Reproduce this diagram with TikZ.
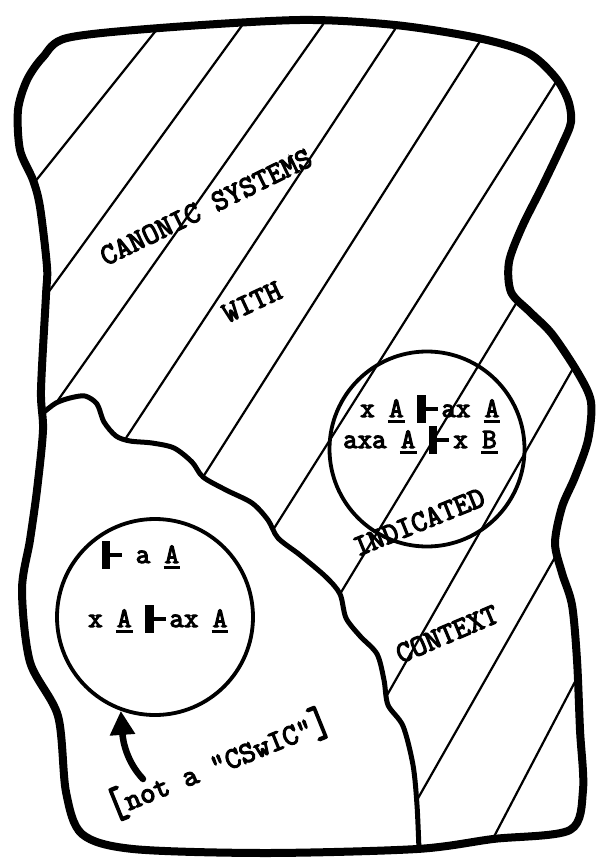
\documentclass[tikz,border=0pt]{standalone}
\usepackage{graphicx}
\usepackage{fontspec}
\setmonofont{Latin Modern Mono}[AutoFakeBold=4]
\usetikzlibrary{arrows.meta}
\newcommand{\labelfont}{\fontsize{30}{32}\selectfont\ttfamily\bfseries}
\newcommand{\formulafont}{\fontsize{28}{30}\selectfont\ttfamily\bfseries}
\newcommand{\yields}{\kern0.5em\rule[-0.2em]{0.29em}{1em}\rule[0.2em]{0.43em}{0.14em}\kern0.14em}
\newcommand{\unl}[1]{\makebox[0pt][l]{\kern-0.04em\rule[-0.22em]{0.6em}{0.1em}}#1}
\newcommand{\bigbrack}[1]{\raisebox{-0.1em}{\scalebox{1.2}[1.45]{#1}}}

\begin{document}
\begin{tikzpicture}[x=1pt,y=-1pt,
  border/.style={line width=8pt,line join=round},
  split/.style={line width=5pt,line cap=round,line join=round},
  hatch/.style={line width=2.2pt},
  ring/.style={draw,circle,line width=3.8pt,minimum size=#1,inner sep=0pt},
  lbl/.style={font=\labelfont,inner sep=0pt},
  fml/.style={font=\formulafont,inner sep=0pt,anchor=base west},
  pointer/.style={line width=6.5pt,line cap=round,-{Triangle[length=24pt,width=24pt]}}]
  \useasboundingbox (0,0) rectangle (595,867);
  \path[save path=\blob] plot[smooth cycle] coordinates {
    (67,38) (160,28) (300,20) (395,25) (478,38) (528,53) (555,77) (568,100)
    (571,122) (562,145) (542,187) (522,227) (509,262) (511,292) (530,312)
    (552,334) (578,373) (591,402) (588,440) (575,477) (562,507) (555,543)
    (562,573) (572,605) (577,660) (580,730) (583,790) (570,830) (493,839)
    (417,849) (266,853) (133,849) (82,834) (66,792) (58,716) (30,662)
    (22,590) (30,540) (37,490) (43,430) (41,390) (46,295) (47,267) (40,207)
    (33,180) (20,150) (18,110) (27,80) (43,57)};
  % hatching of the CSwIC region
  \begin{scope}
    \clip[use path=\blob];
    \draw[hatch] (166,18) -- (26,193);
    \draw[hatch] (246,20) -- (42,301);
    \draw[hatch] (331,13) -- (56,403);
    \draw[hatch] (405,14) -- (126,438);
    \draw[hatch] (489,27) -- (203,477);
    \draw[hatch] (563,71) -- (273,530);
    \draw[hatch] (520,297) -- (340,594);
    \draw[hatch] (575,365) -- (386,697);
    \draw[hatch] (562,545) -- (417,800);
    \draw[hatch] (578,676) -- (487,850);
  \end{scope}
  \draw[split] plot[smooth] coordinates {
    (44,412) (56,403) (70,398) (85,396) (97,404) (104,422) (116,436) (130,441)
    (152,443) (174,448) (192,462) (203,477) (226,490) (252,503) (268,520)
    (278,538) (300,555) (326,577) (340,594) (346,618) (360,636) (377,654)
    (384,680) (388,705) (403,726) (413,765) (417,805) (419,850)};
  \draw[border,use path=\blob];
  \node[ring=195pt] (rightc) at (427,449) {};
  \node[ring=196pt] (leftc) at (155,617) {};
  \node[lbl,rotate=26] (canonic) at (206,207) {CANONIC SYSTEMS};
  \node[lbl,rotate=25] (with) at (252,302) {WITH};
  \node[lbl,rotate=22] (indicated) at (419,522) {INDICATED};
  \node[lbl,rotate=23] (context) at (447,634) {CONTEXT};
  \node[fml] (rline1) at (360,417) {x \unl{A}\yields ax \unl{A}};
  \node[fml] (rline2) at (343,448) {axa \unl{A}\yields x \unl{B}};
  \node[fml] (lline1) at (88,563) {\yields\kern0.34em a \unl{A}};
  \node[fml] (lline2) at (88,627) {x \unl{A}\yields ax \unl{A}};
  \node[lbl,rotate=22,anchor=base] (note) at (222,773)
    {\bigbrack{[}not a "CSwIC"\bigbrack{]}};
  \coordinate (tail) at (143,779);
  \draw[pointer] (tail) .. controls (127,762) and (123,742) .. (leftc.250);
\end{tikzpicture}
\end{document}
